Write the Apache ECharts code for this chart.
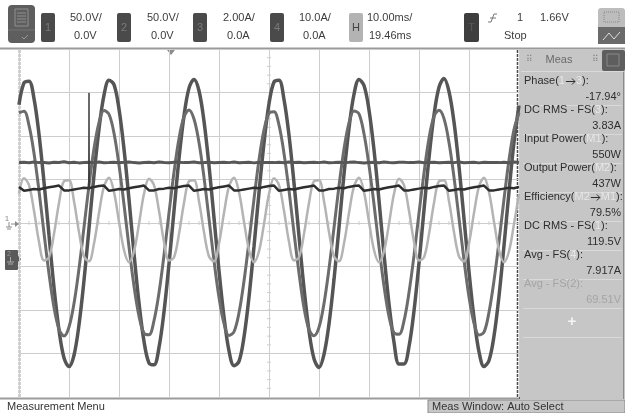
<!DOCTYPE html>
<html><head><meta charset="utf-8">
<script src="https://cdn.jsdelivr.net/npm/echarts/dist/echarts.min.js"></script>
<style>html,body{margin:0;padding:0;background:#fff}#c{width:625px;height:413px}</style>
</head><body><div id="c"></div>
<script>
// ---- data (time step 1 ms, 10 ms/div, 100 ms screen) ----
const sampleStepMs = 1;
// Ch1 voltage (V), 50 V/div
const ch1Volts = [
 136,161,163,143,102,47,-14,-74,-123,-155,
 -165,-152,-117,-66,-6,55,108,147,164,159,
 131,85,27,-35,-92,-136,-161,-163,-143,-102,
 -47,14,74,123,155,165,152,117,66,6,
 -55,-108,-147,-164,-159,-131,-85,-27,35,92,
 137,162,164,142,101,46,-15,-75,-124,-156,
 -166,-151,-116,-65,-5,56,109,148,165,158,
 130,84,26,-36,-93,-137,-162,-162,-142,-101,
 -46,15,75,124,156,166,151,116,65,5,
 -56,-109,-148,-165,-158,-130,-84,-26,36,93,
 135];
// Ch3 current (A), 2 A/div
const ch3Amps = [
 5.07,5.14,4.49,3.21,1.48,-0.46,-2.33,-3.88,-4.88,-5.2,
 -4.78,-3.70,-2.10,-0.20,1.73,3.42,4.62,5.17,5.00,4.13,
 2.67,0.85,-1.10,-2.90,-4.28,-5.07,-5.14,-4.49,-3.21,-1.48,
 0.46,2.33,3.88,4.88,5.2,4.78,3.70,2.10,0.20,-1.73,
 -3.42,-4.62,-5.17,-5.00,-4.13,-2.67,-0.85,1.10,2.90,4.28,
 5.05,5.12,4.5,3.2,1.5,-0.45,-2.3,-3.9,-4.9,-5.18,
 -4.8,-3.7,-2.1,-0.22,1.7,3.4,4.6,5.15,5.02,4.1,
 2.65,0.86,-1.1,-2.9,-4.3,-5.05,-5.12,-4.5,-3.2,-1.5,
 0.45,2.3,3.9,4.9,5.18,4.8,3.7,2.1,0.22,-1.7,
 -3.4,-4.6,-5.15,-5.02,-4.1,-2.65,-0.86,1.1,2.9,4.3,
 5.06];
// Ch2 voltage (V), 50 V/div
const ch2Volts = [
 69.5,69.8,69.2,70.1,69.4,69.6,69.0,69.9,69.5,70.3,
 69.3,69.7,69.1,69.6,69.8,69.4,70.0,69.2,69.5,69.9,
 69.3,69.7,70.2,69.4,69.1,69.6,69.8,69.3,70.0,69.5,
 69.2,69.7,69.9,69.4,69.6,70.1,69.3,69.5,69.8,69.2,
 69.6,69.9,69.4,70.0,69.3,69.5,69.7,69.1,69.8,69.5,
 69.6,69.4,69.9,69.2,70.1,69.5,69.7,69.3,69.6,69.8,
 69.4,70.0,69.2,69.5,69.9,69.3,69.7,70.2,69.4,69.1,
 69.6,69.8,69.3,70.0,69.5,69.2,69.7,69.9,69.4,69.6,
 70.1,69.3,69.5,69.8,69.2,69.6,69.9,69.4,70.0,69.3,
 69.5,69.7,69.1,69.8,69.5,69.6,69.4,69.9,69.2,70.1,
 69.5];
// Ch4 current (A), 10 A/div
const ch4Amps = [
 8.3,7.4,7.6,7.8,7.7,8.0,8.2,8.4,8.6,7.5,
 7.5,7.7,7.9,8.1,8.0,8.3,8.5,8.6,7.4,7.6,
 7.8,7.7,8.0,8.2,8.4,8.6,7.5,7.5,7.8,7.9,
 8.1,8.0,8.3,8.5,8.6,7.4,7.6,7.8,7.7,8.0,
 8.2,8.4,8.6,7.5,7.5,7.7,7.9,8.1,8.0,8.3,
 8.5,8.6,7.4,7.6,7.8,7.7,8.0,8.2,8.4,8.6,
 7.5,7.5,7.8,7.9,8.1,8.0,8.3,8.5,8.6,7.4,
 7.6,7.8,7.7,8.0,8.2,8.4,8.6,7.5,7.5,7.7,
 7.9,8.1,8.0,8.3,8.5,8.6,7.4,7.6,7.8,7.7,
 8.0,8.2,8.4,8.6,7.5,7.5,7.7,7.9,8.1,8.0,
 8.3];
const ch4SpikeMs = [13.9, 14.0, 14.1];
const ch4SpikeAmps = [7.9, 29.9, 7.8];
// Math trace M1 (divisions)
const m1Div = [
 0.67,1.03,0.87,0.28,-0.43,-0.86,-0.79,-0.25,0.46,0.96,
 0.98,0.50,-0.21,-0.77,-0.88,-0.47,0.23,0.84,1.04,0.71,
 0.03,-0.62,-0.90,-0.65,-0.02,0.67,1.02,0.87,0.28,-0.43,
 -0.86,-0.79,-0.25,0.46,0.96,0.98,0.50,-0.21,-0.77,-0.88,
 -0.47,0.23,0.84,1.04,0.71,0.03,-0.62,-0.90,-0.65,-0.02,
 0.67,1.03,0.87,0.28,-0.43,-0.86,-0.79,-0.25,0.46,0.96,
 0.98,0.50,-0.21,-0.77,-0.88,-0.47,0.23,0.84,1.04,0.71,
 0.03,-0.62,-0.90,-0.65,-0.02,0.67,1.02,0.87,0.28,-0.43,
 -0.86,-0.79,-0.25,0.46,0.96,0.98,0.50,-0.21,-0.77,-0.88,
 -0.47,0.23,0.84,1.04,0.71,0.03,-0.62,-0.90,-0.65,-0.02,
 0.67];
const voltsPerDiv = {ch1: 50, ch2: 50, ch3: 2, ch4: 10};

// header / panel texts
const chScaleTop = ['50.0V/', '50.0V/', '2.00A/', '10.0A/'];
const chScaleBottom = ['0.0V', '0.0V', '0.0A', '0.0A'];
const timebaseText = ['10.00ms/', '19.46ms'];
const triggerTexts = ['1', '1.66V', 'Stop'];
// label pieces: d = dark, l = light (source id), g = greyed row, a = arrow
const measLabels = [
  [['Phase(', 'd'], ['1', 'l'], ['→', 'a'], ['3', 'l'], ['):', 'd']],
  [['DC RMS - FS(', 'd'], ['3', 'l'], ['):', 'd']],
  [['Input Power(', 'd'], ['M1', 'l'], ['):', 'd']],
  [['Output Power(', 'd'], ['M2', 'l'], ['):', 'd']],
  [['Efficiency(', 'd'], ['M2', 'l'], ['→', 'a'], ['M1', 'l'], ['):', 'd']],
  [['DC RMS - FS(', 'd'], ['1', 'l'], ['):', 'd']],
  [['Avg - FS(', 'd'], ['4', 'l'], ['):', 'd']],
  [['Avg - FS(2):', 'g']]
];
const measValues = ['-17.94°', '3.83A', '550W', '437W', '79.5%', '119.5V', '7.917A', '69.51V'];

// ---- build ----
const toPairs = (arr, scale) => arr.map((v, i) => [i * sampleStepMs, v / scale]);
const chart = echarts.init(document.getElementById('c'), null, {renderer: 'canvas'});
const F = '"Liberation Sans", Arial, sans-serif';
const measureCtx = document.createElement('canvas').getContext('2d');
measureCtx.font = '11px ' + F;
const G = [];
const rect = (x, y, w, h, fill, r, extra) => G.push(Object.assign({type: 'rect', shape: {x, y, width: w, height: h, r: r || 0}, style: {fill}}, extra || {}));
const line = (x1, y1, x2, y2, stroke, lw, dash) => G.push({type: 'line', shape: {x1, y1, x2, y2}, style: {stroke, lineWidth: lw || 1, lineDash: dash || null}});
const text = (x, y, t, fill, size, align, extra) => G.push({type: 'text', style: Object.assign({x, y, text: t, fill, font: (size || 11) + 'px ' + F, align: align || 'left', verticalAlign: 'middle'}, extra || {})});

// header
rect(8, 5, 27, 38, '#5e5e5e', 4);
rect(15, 9, 13, 17, 'none', 0, {style: {fill: 'none', stroke: '#8f8f8f', lineWidth: 1}});
[13, 16, 19, 22].forEach(y => line(17, y, 26, y, '#8f8f8f', 1));
line(8, 30, 35, 30, '#757575', 1);
G.push({type: 'polyline', shape: {points: [[22, 37], [24, 39], [28, 35]]}, style: {stroke: '#999', lineWidth: 1, fill: 'none'}});
const boxX = [41, 117, 193, 270];
const txtX = [70, 147, 223, 299];
for (let i = 0; i < 4; i++) {
  rect(boxX[i], 13, 14, 29, '#4a4a4a', 2);
  text(boxX[i] + 7, 28, String(i + 1), '#7a7a7a', 11, 'center');
  text(txtX[i], 18, chScaleTop[i], '#3c3c3c', 11);
  text(txtX[i] + 4, 36, chScaleBottom[i], '#3c3c3c', 11);
}
rect(349, 13, 14, 29, '#b3b3b3', 2);
text(356, 28, 'H', '#444', 11, 'center');
text(367, 18, timebaseText[0], '#3c3c3c', 11);
text(369, 36, timebaseText[1], '#3c3c3c', 11);
rect(464, 13, 15, 29, '#3e3e3e', 2);
text(471.5, 28, 'T', '#5a5a5a', 11, 'center');
G.push({type: 'polyline', shape: {points: [[488, 22], [491, 22], [494, 14], [497, 14]]}, style: {stroke: '#777', lineWidth: 1, fill: 'none'}});
line(490, 18, 496, 18, '#777', 1);
text(517, 18, triggerTexts[0], '#3c3c3c', 11);
text(540, 18, triggerTexts[1], '#3c3c3c', 11);
text(504, 36, triggerTexts[2], '#3c3c3c', 11);
rect(598, 8, 27, 36, '#bdbdbd', 3);
rect(598, 27, 27, 17, '#6a6a6a', 0);
rect(604, 12, 15, 10, 'none', 0, {style: {fill: 'none', stroke: '#888', lineWidth: 1, lineDash: [1, 1]}});
G.push({type: 'polyline', shape: {points: [[603, 40], [609, 33], [614, 39], [620, 32]]}, style: {stroke: '#ddd', lineWidth: 1, fill: 'none'}});
line(0, 48.5, 625, 48.5, '#9a9a9a', 2);

// plot frame and decorations
const PX = 19, PY = 49, PW = 500, PH = 348;
for (let k = 1; k < 50; k++) {
  const x = PX + k * PW / 50;
  line(x, PY + PH / 2 - 2, x, PY + PH / 2 + 2, '#cfcfcf', 1);
}
for (let k = 1; k < 40; k++) {
  const y = PY + k * PH / 40;
  line(PX + PW / 2 - 2, y, PX + PW / 2 + 2, y, '#cfcfcf', 1);
}

// meas panel
rect(519, 49, 106, 350, '#c6c6c6', 0);
line(519.5, 49, 519.5, 399, '#5a5a5a', 1);
line(623.5, 72, 623.5, 399, '#8a8a8a', 1);
rect(602, 50, 23, 21, '#5e5e5e', 2);
rect(607, 54, 12, 12, 'none', 0, {style: {fill: 'none', stroke: '#888', lineWidth: 1}});
text(526, 60, '⠿', '#888', 9);
text(592, 60, '⠿', '#888', 9);
text(559, 60, 'Meas', '#6a6a6a', 11, 'center');
line(521, 71.5, 623, 71.5, '#dadada', 1);
const pieceColor = {d: '#2e2e2e', l: '#e6e6e6', g: '#a4a4a4'};
for (let i = 0; i < measLabels.length; i++) {
  let x = 524;
  const y = 81 + 29 * i;
  measLabels[i].forEach(([s, k]) => {
    if (k === 'a') {
      line(x + 1, y + 0.5, x + 10, y + 0.5, '#2e2e2e', 1);
      G.push({type: 'polyline', shape: {points: [[x + 7, y - 2.5], [x + 10, y + 0.5], [x + 7, y + 3.5]]}, style: {stroke: '#2e2e2e', lineWidth: 1, fill: 'none'}});
      x += 11;
    } else {
      text(x, y, s, pieceColor[k], 11);
      x += measureCtx.measureText(s).width;
    }
  });
  text(621, 96.5 + 29 * i, measValues[i], i === 7 ? '#a4a4a4' : '#2e2e2e', 11, 'right');
  line(523, 105.5 + 29 * i, 622, 105.5 + 29 * i, '#d9d9d9', 1);
}
text(572, 322, '+', '#f4f4f4', 15, 'center', {font: 'bold 15px ' + F});
line(523, 337.5, 622, 337.5, '#d9d9d9', 1);

// frame lines
line(19.5, 50, 19.5, 398, '#4a4a4a', 1.5, [3, 1]);
line(517.5, 50, 517.5, 398, '#4a4a4a', 1.5, [3, 1]);
line(0, 398.5, 519, 398.5, '#9c9c9c', 2);
G.push({type: 'polygon', shape: {points: [[167, 50], [175, 50], [171, 55]]}, style: {fill: '#8a8a8a'}});
// left ground markers
text(7, 219, '1', '#8a8a8a', 8, 'center');
line(11, 224, 17, 224, '#8a8a8a', 1);
G.push({type: 'polygon', shape: {points: [[15, 221], [19, 224], [15, 227]]}, style: {fill: '#8a8a8a'}});
line(6, 227, 12, 227, '#8a8a8a', 1); line(7, 229, 11, 229, '#8a8a8a', 1); line(9, 222, 9, 227, '#8a8a8a', 1);
rect(5, 250, 13, 20, '#5a5a5a', 1);
text(9, 254, '2', '#9a9a9a', 7, 'center');
line(7, 262, 14, 262, '#aaa', 1); line(8, 264, 13, 264, '#aaa', 1); line(10.5, 257, 10.5, 262, '#aaa', 1);
G.push({type: 'polygon', shape: {points: [[18, 256], [21, 259], [18, 262]]}, style: {fill: '#5a5a5a'}});

// bottom bar
text(7, 407, 'Measurement Menu', '#333', 11);
rect(428, 400, 197, 13, '#c6c6c6', 0, {style: {fill: '#c6c6c6', stroke: '#8a8a8a', lineWidth: 1}});
text(432, 407, 'Meas Window: Auto Select', '#333', 11);

const lineSeries = (name, data, color, width, z, smooth) => ({
  name, type: 'line', data, showSymbol: false, symbol: 'none', smooth: smooth === undefined ? 0.35 : smooth,
  lineStyle: {color, width}, z, silent: true, animation: false, clip: true
});

chart.setOption({
  backgroundColor: '#ffffff',
  animation: false,
  grid: {left: PX, top: PY, width: PW, height: PH},
  xAxis: {type: 'value', min: 0, max: 100, interval: 10, axisLine: {show: false}, axisTick: {show: false}, axisLabel: {show: false},
    splitLine: {lineStyle: {color: '#cdcdcd', width: 1}}},
  yAxis: {type: 'value', min: -4, max: 4, interval: 1, axisLine: {show: false}, axisTick: {show: false}, axisLabel: {show: false},
    splitLine: {lineStyle: {color: '#cdcdcd', width: 1}}},
  series: [
    lineSeries('Ch1', toPairs(ch1Volts, voltsPerDiv.ch1), '#555555', 3.5, 2),
    lineSeries('Ch3', toPairs(ch3Amps, voltsPerDiv.ch3), '#6c6c6c', 3, 3),
    lineSeries('M1', toPairs(m1Div, 1), '#b4b4b4', 2.5, 4),
    lineSeries('Ch2', toPairs(ch2Volts, voltsPerDiv.ch2), '#575757', 3, 5, false),
    lineSeries('Ch4', toPairs(ch4Amps, voltsPerDiv.ch4), '#2e2e2e', 2.5, 6, false),
    lineSeries('Ch4 spike', ch4SpikeMs.map((t, i) => [t, ch4SpikeAmps[i] / voltsPerDiv.ch4]), '#3a3a3a', 1, 6, false)
  ],
  graphic: G
});
</script></body></html>
